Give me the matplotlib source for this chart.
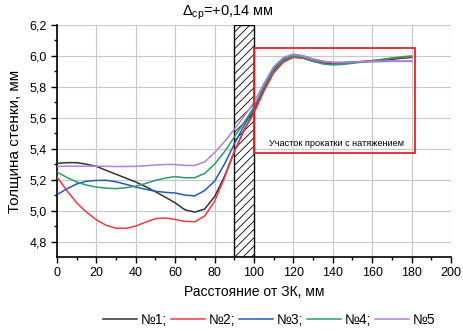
import numpy as np
import matplotlib
matplotlib.use("Agg")
import matplotlib.pyplot as plt
from matplotlib.patches import Rectangle

plt.rcParams['font.family'] = ['Liberation Sans', 'DejaVu Sans']
plt.rcParams['mathtext.fontset'] = 'custom'
plt.rcParams['mathtext.rm'] = 'Liberation Sans'
plt.rcParams['mathtext.it'] = 'Liberation Sans'
plt.rcParams['hatch.linewidth'] = 0.6

# расстояние от ЗК, мм
dist = list(range(0, 185, 5))

# толщина стенки, мм
s1 = [5.305, 5.31, 5.31, 5.30, 5.286, 5.26, 5.235, 5.21, 5.185, 5.155, 5.122, 5.087, 5.05, 5.005, 4.99, 5.01,
      5.09, 5.22, 5.38, 5.52, 5.64, 5.78, 5.90, 5.97, 5.995, 5.985, 5.965, 5.955, 5.95, 5.952, 5.958, 5.963,
      5.967, 5.972, 5.978, 5.985, 5.99]
s2 = [5.217, 5.13, 5.05, 4.99, 4.94, 4.905, 4.886, 4.885, 4.90, 4.925, 4.948, 4.952, 4.943, 4.93, 4.928, 4.965,
      5.06, 5.21, 5.38, 5.52, 5.63, 5.77, 5.89, 5.96, 5.99, 5.985, 5.97, 5.96, 5.955, 5.955, 5.96, 5.965,
      5.97, 5.977, 5.985, 5.99, 5.995]
s3 = [5.103, 5.14, 5.172, 5.19, 5.195, 5.196, 5.186, 5.17, 5.152, 5.138, 5.125, 5.118, 5.114, 5.10, 5.095, 5.13,
      5.19, 5.30, 5.43, 5.55, 5.66, 5.80, 5.92, 5.985, 6.01, 6.0, 5.98, 5.965, 5.958, 5.958, 5.96, 5.962,
      5.963, 5.964, 5.965, 5.965, 5.965]
s4 = [5.249, 5.215, 5.185, 5.165, 5.152, 5.145, 5.142, 5.148, 5.158, 5.175, 5.195, 5.21, 5.22, 5.212, 5.213, 5.24,
      5.30, 5.38, 5.475, 5.57, 5.67, 5.80, 5.91, 5.975, 6.0, 5.99, 5.965, 5.948, 5.942, 5.945, 5.952, 5.96,
      5.968, 5.977, 5.986, 5.994, 6.0]
s5 = [5.286, 5.287, 5.287, 5.287, 5.287, 5.286, 5.285, 5.285, 5.286, 5.29, 5.295, 5.298, 5.298, 5.292, 5.292, 5.315,
      5.375, 5.445, 5.525, 5.61, 5.70, 5.82, 5.93, 5.99, 6.012, 6.0, 5.98, 5.965, 5.957, 5.957, 5.96, 5.963,
      5.965, 5.966, 5.966, 5.966, 5.966]

series = [s1, s2, s3, s4, s5]
names = ['№1;', '№2;', '№3;', '№4;', '№5']
colors = ['#333333', '#ee3b45', '#2358c0', '#2e9b6a', '#b080dc']

fig = plt.figure(figsize=(4.63, 3.31), dpi=100)
ax = fig.add_axes([0.123, 0.2236, 0.851, 0.7009])

# заштрихованная зона (ЗК)
ax.axvspan(90, 100, facecolor='white', edgecolor='black', hatch='////', lw=1.0, zorder=2)

for s, n, c in zip(series, names, colors):
    ax.plot(dist, s, color=c, lw=1.1, label=n, zorder=3)

# участок прокатки с натяжением
ax.add_patch(Rectangle((100, 5.374), 81.7, 0.676, fill=False, edgecolor='#e8202a', lw=1.3, zorder=4))
ax.text(142, 5.435, 'Участок прокатки с натяжением', fontsize=6.6, ha='center', va='center', zorder=5)

ax.set_xlim(0, 200)
ax.set_ylim(4.7, 6.2)
ax.set_xticks(np.arange(0, 201, 20))
ax.set_xticks(np.arange(10, 200, 20), minor=True)
ax.set_yticks(np.arange(4.8, 6.21, 0.2))
ax.set_yticks(np.arange(4.9, 6.2, 0.2), minor=True)
ax.set_yticklabels([f'{v:.1f}'.replace('.', ',') for v in np.arange(4.8, 6.21, 0.2)])
ax.tick_params(labelsize=9, length=4, width=1.0, direction='out')
ax.tick_params(which='minor', length=2.5, width=1.0)
ax.grid(True, color='#c8c8c8', lw=0.8, zorder=0)
ax.set_axisbelow(True)
for sp in ['top', 'right']:
    ax.spines[sp].set_visible(False)
for sp in ['left', 'bottom']:
    ax.spines[sp].set_linewidth(1.2)

ax.set_xlabel('Расстояние от ЗК, мм', fontsize=10, labelpad=4)
ax.set_ylabel('Толщина стенки, мм', fontsize=11, labelpad=5)

fig.text(0.492, 0.962, r'$\Delta_{\mathrm{ср}}$=+0,14 мм', fontsize=10.5, ha='center', va='center')

fig.legend(loc='center', bbox_to_anchor=(0.582, 0.033), ncol=5, frameon=False, fontsize=10,
           handlelength=2.4, handletextpad=0.3, columnspacing=0.3, borderpad=0)

fig.savefig('out.png', dpi=100)
